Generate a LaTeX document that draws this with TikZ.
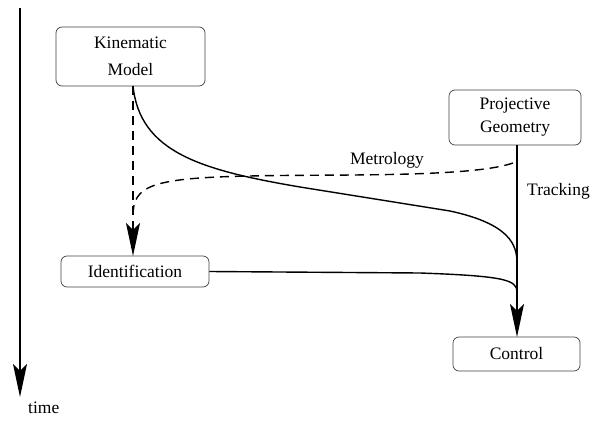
\documentclass[tikz,border=0pt]{standalone}
\usepackage{fontspec}
\setmainfont{Liberation Serif}
\usetikzlibrary{arrows.meta}
\begin{document}
\begin{tikzpicture}[x=1pt,y=-1pt,
  box/.style={draw=black!75,line width=0.7pt,rounded corners=6pt,align=center,inner sep=0pt,font=\fontsize{17.5}{23}\selectfont},
  lbl/.style={font=\fontsize{17.5}{20}\selectfont,inner sep=0pt},
  conn/.style={line width=1.4pt},
  big/.style={-{Stealth[length=33pt,width=14pt,inset=7pt]}}]
\useasboundingbox (0,0) rectangle (591,422);
\node[box,minimum width=149pt,minimum height=59pt] (kin) at (130.5,56.5) {Kinematic\\[4pt]Model};
\node[box,minimum width=132pt,minimum height=55pt] (proj) at (515,117.5) {Projective\\Geometry};
\node[box,minimum width=148pt,minimum height=31pt] (id) at (135,271.5) {Identification};
\node[box,minimum width=127pt,minimum height=34pt] (ctl) at (516.5,354) {Control};
\coordinate (kb) at (133,86);
\coordinate (idt) at (133,256);
\coordinate (pb) at (517,145);
\coordinate (ct) at (517,337);
\coordinate (j1) at (517,263);
\coordinate (j2) at (517,292);
\coordinate (m0) at (513,163);
\coordinate (m1) at (133,216);
\coordinate (t0) at (20,8);
\coordinate (t1) at (20,397);
% time axis
\draw[conn,big] (t0) -- (t1);
\node[lbl,anchor=west] (time) at (28,408) {time};
% dashed
\draw[conn,dashed,dash pattern=on 9pt off 6pt,big] (kb) -- (idt);
\draw[conn,dashed,dash pattern=on 9pt off 6pt] (m0) .. controls (470,178) and (330,174) .. (250,176) .. controls (150,178) and (133,186) .. (m1);
\node[lbl] (met) at (387,160) {Metrology};
% solid
\draw[conn] (kb) .. controls (140,152) and (200,170) .. (300,187) -- (450,211) .. controls (510,224) and (517,245) .. (j1);
\draw[conn] (id.east) -- (420,273) .. controls (505,276) and (517,280) .. (j2);
\draw[conn,big] (pb) -- (ct);
\node[lbl,anchor=west] (trk) at (527,191) {Tracking};
\end{tikzpicture}
\end{document}
